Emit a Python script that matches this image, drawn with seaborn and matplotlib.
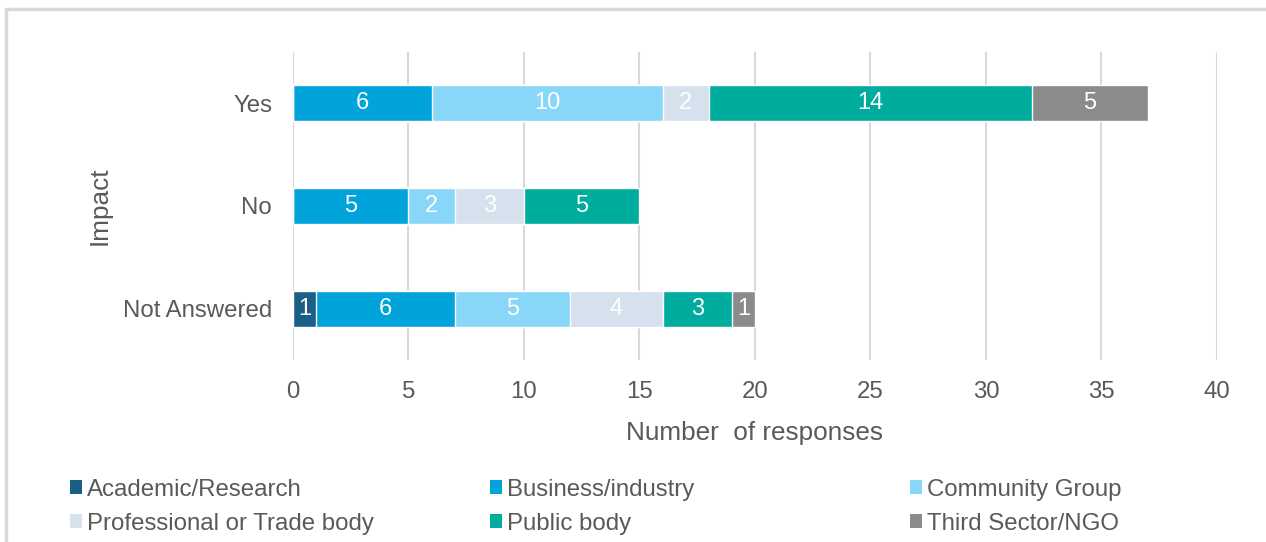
import numpy as np
import pandas as pd
import seaborn as sns
import matplotlib.pyplot as plt
from matplotlib.patches import Rectangle, Patch

# Chart data
impact = ["Yes", "No", "Not Answered"]
groups = ["Academic/Research", "Business/industry", "Community Group",
          "Professional or Trade body", "Public body", "Third Sector/NGO"]
academic = [0, 0, 1]
business = [6, 5, 6]
community = [10, 2, 5]
professional = [2, 3, 4]
public = [14, 5, 3]
third = [5, 0, 1]
colors = ["#1B5E86", "#00A3DA", "#88D6F8", "#D5E1EC", "#00AC9D", "#898B8D"]

sns.set_theme(style="white")
plt.rcParams["font.family"] = ["Liberation Sans", "DejaVu Sans"]
grey = "#595959"

values = np.array([academic, business, community, professional, public, third])
cum = values.cumsum(axis=0)

fig = plt.figure(figsize=(12.66, 5.42), dpi=100)
ax = fig.add_axes([0.2314, 0.336, 0.7299, 0.568])

# draw the stacked bars from the longest cumulative to the shortest
for i in range(len(groups) - 1, -1, -1):
    df = pd.DataFrame({"impact": impact, "total": cum[i]})
    sns.barplot(data=df, x="total", y="impact", orient="h", color=colors[i],
                width=0.35, saturation=1, ax=ax, zorder=3)

for i in range(len(groups)):
    for j in range(len(impact)):
        v = values[i, j]
        if v > 0:
            ax.text(cum[i, j] - v / 2, j, str(v), ha="center", va="center",
                    color="white", fontsize=17, zorder=4)

ax.set_xlim(0, 40)
ax.set_ylim(2.5, -0.5)
ax.set_xticks(range(0, 41, 5))
ax.grid(axis="x", color="#D9D9D9", linewidth=1.5, zorder=0)
ax.grid(axis="y", visible=False)
for s in ax.spines.values():
    s.set_visible(False)
ax.tick_params(axis="both", length=0, labelsize=17.3, colors=grey)
ax.tick_params(axis="x", pad=15)
ax.tick_params(axis="y", pad=15)
ax.set_xlabel("Number  of responses", fontsize=18.8, color=grey, labelpad=13)
ax.set_ylabel("Impact", fontsize=18.8, color=grey, labelpad=8)

# legend: three columns of two rows, placed one column at a time
col_x = [0.0553, 0.387, 0.7188]
for c in range(3):
    idx = [c, c + 3]
    handles = [Patch(facecolor=colors[k], edgecolor="none") for k in idx]
    leg = fig.legend(handles, [groups[k] for k in idx], loc="upper left",
                     bbox_to_anchor=(col_x[c], 0.117), frameon=False,
                     fontsize=17.3, handlelength=0.5, handleheight=0.5,
                     handletextpad=0.2, labelcolor=grey, labelspacing=0.5,
                     borderpad=0, borderaxespad=0)

fig.patches.append(Rectangle((0.005, -0.05), 1.1, 1.034, transform=fig.transFigure,
                             fill=False, edgecolor="#D9D9D9", linewidth=2.5))

fig.savefig("out.png", dpi=100)
